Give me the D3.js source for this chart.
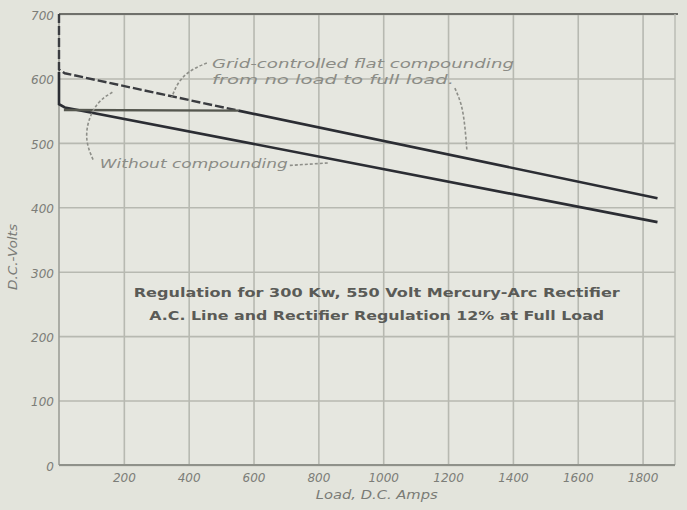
<!DOCTYPE html>
<html>
<head>
<meta charset="utf-8">
<script src="https://cdn.jsdelivr.net/npm/d3@7"></script>
<style>
  body { margin: 0; background: #e3e4dc; }
  svg { display: block; }
  .axis text { font-family: "DejaVu Sans", sans-serif; font-style: italic; fill: #7c7d78; font-size: 12px; }
  .axis .domain { display: none; }
  .axis .tick line { stroke: #b7b9b1; stroke-width: 1.6; }
  .note { font-family: "DejaVu Sans", sans-serif; font-style: italic; fill: #8b8c86; font-size: 12px; }
  .title { font-family: "DejaVu Sans", sans-serif; fill: #5a5b57; font-size: 11.5px; font-weight: bold; }
</style>
</head>
<body>
<div id="chart"></div>
<script>
// Values (load in D.C. amps, D.C. volts)
var xTicks = [200, 400, 600, 800, 1000, 1200, 1400, 1600, 1800]
var yTicks = [0, 100, 200, 300, 400, 500, 600, 700]

// rectifier characteristic with raised no-load voltage (dashed part up to ~550 A)
var upperDashed = [[0, 700], [0, 614], [18, 608], [553, 550]]
var upperSolid = [[553, 550], [1846, 414]]
// grid-controlled flat compounding: held at 550 V until it meets the upper line
var flatLine = [[15, 551], [553, 550]]
// without compounding
var lowerLine = [[0, 610], [0, 560], [18, 555], [1846, 377]]

// annotation text and dotted leaders (data units)
var gridNote = ["Grid-controlled flat compounding", "from no load to full load."]
var gridNotePos = [[472, 616], [472, 591]]
var gridLeaderA = [[456, 624], [404, 613], [367, 595], [348, 571]]
var gridLeaderB = [[1221, 585], [1242, 561], [1252, 528], [1258, 489]]
var withoutNote = "Without compounding"
var withoutNotePos = [126, 461]
var withoutLeaderA = [[105, 474], [83, 500], [86, 531], [117, 564], [166, 579]]
var withoutLeaderB = [[712, 465], [835, 469]]
var titleLines = ["Regulation for 300 Kw, 550 Volt  Mercury-Arc Rectifier",
                  "A.C. Line and Rectifier Regulation 12% at Full Load"]
var titlePos = [[980, 261], [980, 225]]

var margin = { top: 14, right: 12, bottom: 45, left: 59 }
var width = 687 - margin.left - margin.right
var height = 510 - margin.top - margin.bottom

var x = d3.scaleLinear().domain([0, 1900]).range([0, width])
var y = d3.scaleLinear().domain([0, 700]).range([height, 0])

var svg = d3.select("#chart").append("svg")
  .attr("width", 687).attr("height", 510)

var g = svg.append("g")
  .attr("transform", "translate(" + margin.left + "," + margin.top + ")")

g.append("rect")
  .attr("width", width).attr("height", height)
  .attr("fill", "#e6e7e0")

// grid + axes
g.append("g").attr("class", "x axis")
  .attr("transform", "translate(0," + height + ")")
  .call(d3.axisBottom(x).tickValues(xTicks).tickFormat(d3.format("d")).tickSize(-height).tickPadding(8))

g.append("g").attr("class", "y axis")
  .call(d3.axisLeft(y).tickValues(yTicks).tickFormat(d3.format("d")).tickSize(-width).tickPadding(5))

g.selectAll(".y.axis .tick text").attr("dy", "0.45em")

// frame
g.append("line").attr("x1", 0).attr("x2", width + 3).attr("y1", 0).attr("y2", 0)
  .attr("stroke", "#6f706b").attr("stroke-width", 2)
g.append("line").attr("x1", 0).attr("x2", 0).attr("y1", 0).attr("y2", height)
  .attr("stroke", "#9c9e97").attr("stroke-width", 1.6)
g.append("line").attr("x1", width).attr("x2", width).attr("y1", 0).attr("y2", height)
  .attr("stroke", "#b8bab2").attr("stroke-width", 1.4)
g.append("line").attr("x1", 0).attr("x2", width).attr("y1", height).attr("y2", height)
  .attr("stroke", "#8f918a").attr("stroke-width", 1.8)

var line = d3.line().x(d => x(d[0])).y(d => y(d[1]))
var curve = d3.line().x(d => x(d[0])).y(d => y(d[1])).curve(d3.curveBasis)

// data lines
g.append("path").datum(lowerLine)
  .attr("d", line).attr("fill", "none")
  .attr("stroke", "#2b2d33").attr("stroke-width", 2.6)

g.append("path").datum(upperDashed)
  .attr("d", line).attr("fill", "none")
  .attr("stroke", "#3a3c40").attr("stroke-width", 2.4)
  .attr("stroke-dasharray", "9,3")

g.append("path").datum(upperSolid)
  .attr("d", line).attr("fill", "none")
  .attr("stroke", "#2b2d33").attr("stroke-width", 2.6)

g.append("path").datum(flatLine)
  .attr("d", line).attr("fill", "none")
  .attr("stroke", "#55574f").attr("stroke-width", 2.4)

// notes
var notes = g.append("g")

gridNote.forEach((t, i) => {
  notes.append("text").attr("class", "note")
    .attr("x", x(gridNotePos[i][0])).attr("y", y(gridNotePos[i][1]))
    .attr("textLength", i === 0 ? 302 : 242).attr("lengthAdjust", "spacingAndGlyphs")
    .text(t)
})

notes.append("text").attr("class", "note")
  .attr("x", x(withoutNotePos[0])).attr("y", y(withoutNotePos[1]))
  .attr("textLength", 188).attr("lengthAdjust", "spacingAndGlyphs")
  .text(withoutNote)

;[gridLeaderA, gridLeaderB, withoutLeaderA, withoutLeaderB].forEach(pts => {
  notes.append("path").datum(pts)
    .attr("d", curve).attr("fill", "none")
    .attr("stroke", "#8e8f89").attr("stroke-width", 1.6)
    .attr("stroke-dasharray", "3,2")
})

titleLines.forEach((t, i) => {
  g.append("text").attr("class", "title")
    .attr("x", x(titlePos[i][0])).attr("y", y(titlePos[i][1]))
    .attr("text-anchor", "middle")
    .attr("textLength", i === 0 ? 486 : 455).attr("lengthAdjust", "spacingAndGlyphs")
    .text(t)
})

// axis titles
svg.append("text").attr("class", "note")
  .attr("transform", "translate(17,257) rotate(-90)")
  .attr("text-anchor", "middle")
  .attr("textLength", 66).attr("lengthAdjust", "spacingAndGlyphs")
  .style("font-size", "12.5px").style("fill", "#7a7b76")
  .text("D.C.-Volts")

svg.append("text").attr("class", "note")
  .attr("x", margin.left + x(980)).attr("y", 499)
  .attr("text-anchor", "middle")
  .attr("textLength", 122).attr("lengthAdjust", "spacingAndGlyphs")
  .style("fill", "#7a7b76")
  .text("Load, D.C. Amps")
</script>
</body>
</html>
